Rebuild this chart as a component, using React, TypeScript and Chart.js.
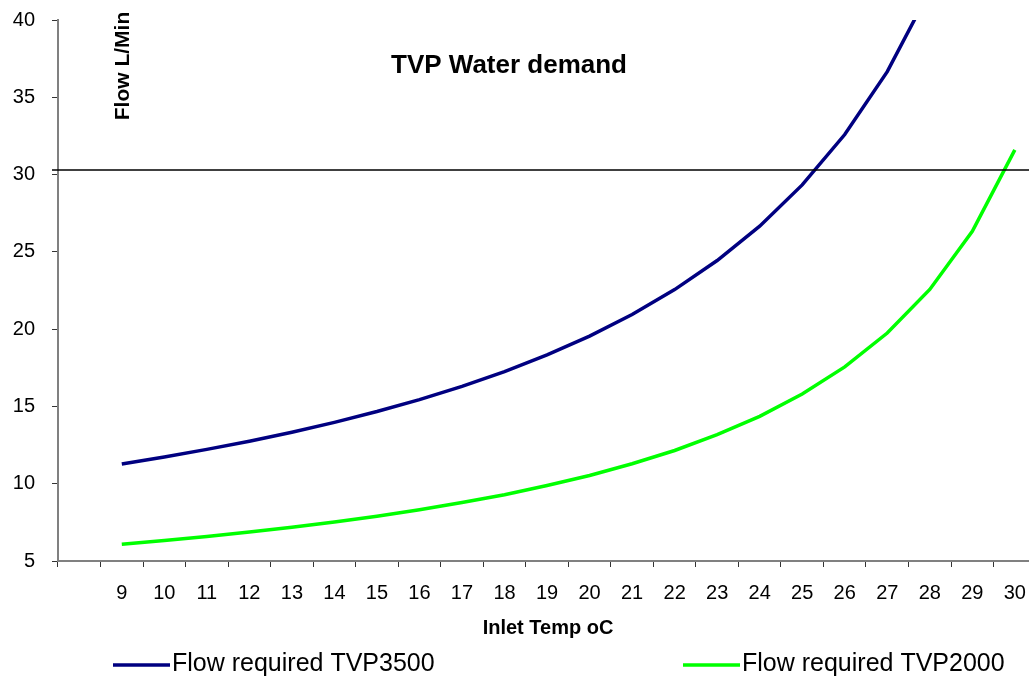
import React, { useEffect, useRef } from "react";
import { Chart, registerables } from "chart.js";

Chart.register(...registerables);

const temps = ["9", "10", "11", "12", "13", "14", "15", "16", "17", "18", "19", "20", "21", "22", "23", "24", "25", "26", "27", "28", "29", "30"];
const categories = ["", ...temps];
const flowTVP3500 = [11.28, 11.73, 12.22, 12.75, 13.33, 13.97, 14.67, 15.44, 16.3, 17.25, 18.33, 19.55, 20.95, 22.56, 24.44, 26.66, 29.33, 32.59, 36.66, 41.9, 48.88, 58.66];
const flowTVP2000 = [6.08, 6.32, 6.58, 6.87, 7.18, 7.52, 7.9, 8.32, 8.78, 9.29, 9.88, 10.53, 11.29, 12.15, 13.17, 14.36, 15.8, 17.56, 19.75, 22.57, 26.33, 31.6];
const limitFlow = 30.3;
const seriesLabels = ["Flow required TVP3500", "Flow required TVP2000"];
const chartTitle = "TVP Water demand";
const yTitle = "Flow L/Min";
const xTitle = "Inlet Temp oC";

const FONT = "'Liberation Sans', Arial, sans-serif";

const overlayPlugin = {
  id: "overlay",
  afterDatasetsDraw(chart: any) {
    const ctx = chart.ctx;
    const y = chart.scales.y.getPixelForValue(limitFlow);
    ctx.save();
    ctx.strokeStyle = "#000";
    ctx.lineWidth = 1.5;
    ctx.beginPath();
    ctx.moveTo(chart.chartArea.left - 6, y);
    ctx.lineTo(chart.width, y);
    ctx.stroke();
    ctx.restore();
  },
  afterDraw(chart: any) {
    const ctx = chart.ctx;
    ctx.save();
    ctx.fillStyle = "#000";
    // chart title
    ctx.font = `bold 26px ${FONT}`;
    ctx.textAlign = "center";
    ctx.textBaseline = "middle";
    ctx.fillText(chartTitle, 509, 66);
    // y title
    ctx.save();
    ctx.translate(123, 66);
    ctx.rotate(-Math.PI / 2);
    ctx.font = `bold 21px ${FONT}`;
    ctx.fillText(yTitle, 0, 0);
    ctx.restore();
    // x title
    ctx.font = `bold 20px ${FONT}`;
    ctx.fillText(xTitle, 548, 628);
    // legend
    const starts = [113, 683];
    chart.data.datasets.forEach((ds: any, i: number) => {
      const x0 = starts[i];
      const ly = 665;
      ctx.strokeStyle = ds.borderColor;
      ctx.lineWidth = 3.5;
      ctx.beginPath();
      ctx.moveTo(x0, ly);
      ctx.lineTo(x0 + 57, ly);
      ctx.stroke();
      ctx.fillStyle = "#000";
      ctx.font = `25px ${FONT}`;
      ctx.textAlign = "left";
      ctx.textBaseline = "middle";
      ctx.fillText(ds.label, x0 + 59, ly - 1);
    });
    ctx.restore();
  },
};

export default function App() {
  const ref = useRef<HTMLCanvasElement | null>(null);
  useEffect(() => {
    if (!ref.current) return;
    const chart = new Chart(ref.current, {
      type: "line",
      data: {
        labels: categories,
        datasets: [
          {
            label: seriesLabels[0],
            data: [null, ...flowTVP3500],
            borderColor: "#000080",
            backgroundColor: "#000080",
            borderWidth: 3.5,
            pointRadius: 0,
            tension: 0,
            clip: 0,
          },
          {
            label: seriesLabels[1],
            data: [null, ...flowTVP2000],
            borderColor: "#00FF00",
            backgroundColor: "#00FF00",
            borderWidth: 3.5,
            pointRadius: 0,
            tension: 0,
            clip: 0,
          },
        ],
      },
      options: {
        responsive: false,
        animation: false,
        layout: { padding: { top: 20, left: 0, right: 2, bottom: 62 } },
        plugins: {
          legend: { display: false },
          title: { display: false },
          tooltip: { enabled: false },
        },
        scales: {
          x: {
            type: "category",
            offset: true,
            grid: {
              display: true,
              drawOnChartArea: false,
              drawTicks: true,
              tickLength: 6,
              offset: true,
              tickColor: "#333",
              tickWidth: 1,
            },
            border: { display: true, color: "#808080", width: 2 },
            ticks: {
              color: "#000",
              font: { family: FONT, size: 20 },
              padding: 14,
              autoSkip: false,
              maxRotation: 0,
            },
          },
          y: {
            min: 5,
            max: 40,
            afterFit(s: any) {
              s.width = 58;
              s.paddingTop = 0;
              s.paddingBottom = 0;
            },
            grid: {
              display: true,
              drawOnChartArea: false,
              drawTicks: true,
              tickLength: 6,
              tickColor: "#333",
              tickWidth: 1,
            },
            border: { display: true, color: "#808080", width: 2 },
            ticks: {
              stepSize: 5,
              color: "#000",
              font: { family: FONT, size: 20 },
              padding: 17,
            },
          },
        },
      },
      plugins: [overlayPlugin],
    } as any);
    return () => chart.destroy();
  }, []);
  return (
    <div
      style={{
        position: "fixed",
        left: 0,
        top: 0,
        width: 1029,
        height: 681,
        overflow: "hidden",
        background: "#fff",
      }}
    >
      <canvas ref={ref} width={1040} height={681} style={{ display: "block" }} />
    </div>
  );
}
